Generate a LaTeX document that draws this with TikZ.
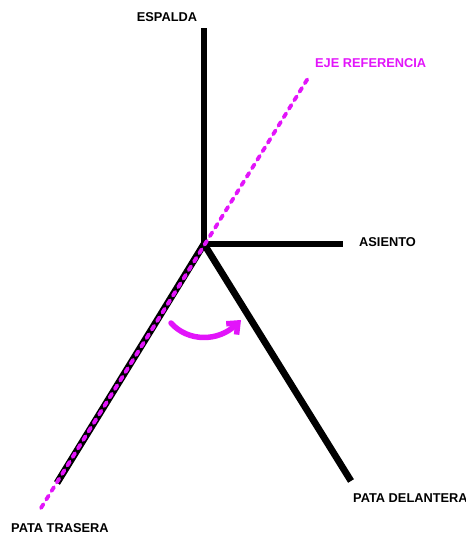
\documentclass[tikz,border=0pt]{standalone}
\usepackage{fontspec}
\setmainfont{Liberation Sans}
\usetikzlibrary{arrows.meta}
\definecolor{eje}{RGB}{226,20,250}
\begin{document}
\begin{tikzpicture}[x=1pt,y=-1pt,
  part/.style={line width=6.8pt,black},
  ejeline/.style={eje,line width=3.8pt,line cap=round,dash pattern=on 4.5pt off 5.5pt},
  lbl/.style={font=\fontsize{12.8}{14}\selectfont\bfseries,inner sep=0pt},
  giro/.style={eje,line width=5.5pt,line cap=round,-{Straight Barb[length=9pt,width=15pt,line width=5.5pt]}}]
\useasboundingbox (0,0) rectangle (466,533);
\coordinate (c) at (204,244);
\coordinate (top) at (204,28);
\coordinate (seat) at (343,244);
\coordinate (back) at (57,483);
\coordinate (front) at (351,481);
\coordinate (ejeA) at (41,508);
\coordinate (ejeB) at (310,75);
\draw[part] (c) -- (top);
\draw[part] (c) -- (seat);
\draw[part] (c) -- (back);
\draw[part] (c) -- (front);
\draw[ejeline] (ejeA) -- (ejeB);
\coordinate (g1) at (171,323);
\coordinate (g2) at (241,320);
\draw[giro] (g1) .. controls (188,342) and (218,342) .. (g2);
\node[lbl,anchor=center] (espalda) at (167,17) {ESPALDA};
\node[lbl,anchor=west,text=eje] (ejet) at (315,63) {EJE REFERENCIA};
\node[lbl,anchor=west] (asiento) at (359,242) {ASIENTO};
\node[lbl,anchor=west] (trasera) at (11,528) {PATA TRASERA};
\node[lbl,anchor=west] (delantera) at (353,498) {PATA DELANTERA};
\end{tikzpicture}
\end{document}
